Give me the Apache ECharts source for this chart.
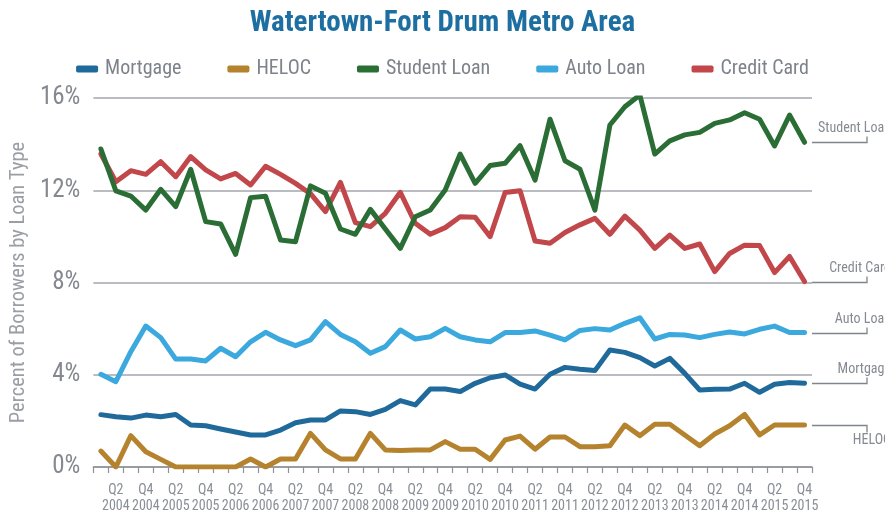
<!DOCTYPE html>
<html>
<head>
<meta charset="utf-8">
<script src="https://cdn.jsdelivr.net/npm/echarts@6/dist/echarts.min.js"></script>
<style>
html,body{margin:0;padding:0;background:#fff;}
#chart{width:885px;height:517px;}
</style>
</head>
<body>
<div id="chart"></div>
<script>
var categories = [
"Q1\n2004","Q2\n2004","Q3\n2004","Q4\n2004",
"Q1\n2005","Q2\n2005","Q3\n2005","Q4\n2005",
"Q1\n2006","Q2\n2006","Q3\n2006","Q4\n2006",
"Q1\n2007","Q2\n2007","Q3\n2007","Q4\n2007",
"Q1\n2008","Q2\n2008","Q3\n2008","Q4\n2008",
"Q1\n2009","Q2\n2009","Q3\n2009","Q4\n2009",
"Q1\n2010","Q2\n2010","Q3\n2010","Q4\n2010",
"Q1\n2011","Q2\n2011","Q3\n2011","Q4\n2011",
"Q1\n2012","Q2\n2012","Q3\n2012","Q4\n2012",
"Q1\n2013","Q2\n2013","Q3\n2013","Q4\n2013",
"Q1\n2014","Q2\n2014","Q3\n2014","Q4\n2014",
"Q1\n2015","Q2\n2015","Q3\n2015","Q4\n2015"
];
var seriesNames = ["Mortgage","HELOC","Student Loan","Auto Loan","Credit Card"];
var mortgage = [2.27,2.18,2.12,2.25,2.18,2.28,1.82,1.79,1.65,1.52,1.39,1.39,1.60,1.92,2.04,2.04,2.43,2.40,2.28,2.50,2.88,2.69,3.38,3.38,3.27,3.63,3.87,3.99,3.59,3.38,4.02,4.32,4.24,4.18,5.07,4.97,4.74,4.38,4.71,4.06,3.34,3.37,3.38,3.63,3.24,3.59,3.66,3.63];
var heloc = [0.69,0,1.36,0.66,0.33,0,0,0,0,0,0.35,0,0.35,0.35,1.46,0.74,0.35,0.35,1.46,0.74,0.72,0.74,0.74,1.10,0.77,0.77,0.33,1.17,1.34,0.77,1.30,1.30,0.88,0.88,0.92,1.82,1.36,1.85,1.85,1.39,0.92,1.43,1.79,2.28,1.39,1.82,1.82,1.82];
var studentLoan = [13.79,11.97,11.75,11.14,12.04,11.29,12.91,10.64,10.54,9.22,11.68,11.74,9.84,9.77,12.19,11.87,10.32,10.09,11.17,10.32,9.48,10.85,11.14,12.01,13.57,12.30,13.07,13.17,13.93,12.44,15.08,13.28,12.91,11.14,14.83,15.62,16.13,13.57,14.14,14.40,14.51,14.90,15.05,15.36,15.08,13.92,15.26,14.08];
var autoLoan = [4.02,3.70,5.00,6.11,5.61,4.68,4.68,4.60,5.15,4.78,5.43,5.84,5.51,5.26,5.51,6.30,5.75,5.43,4.93,5.22,5.94,5.55,5.65,6.01,5.65,5.51,5.43,5.83,5.83,5.90,5.72,5.51,5.92,6.00,5.94,6.23,6.47,5.55,5.75,5.72,5.61,5.75,5.85,5.77,5.97,6.11,5.83,5.83];
var creditCard = [13.57,12.37,12.85,12.69,13.24,12.59,13.46,12.88,12.49,12.73,12.23,13.04,12.69,12.30,11.85,11.07,12.34,10.60,10.42,11.00,11.91,10.57,10.09,10.38,10.85,10.83,9.99,11.90,11.98,9.80,9.70,10.17,10.50,10.78,10.09,10.88,10.27,9.48,10.06,9.48,9.67,8.47,9.26,9.62,9.60,8.43,9.13,8.04];
var yTicks = [0,4,8,12,16];
var endLabelNames = ["Student Loan","Credit Card","Auto Loan","Mortgage","HELOC"];
var endLabelBelow = [false,false,false,false,true];

var colors = ["#1f6a9b","#b5832d","#2a6e36","#3ba8de","#c1474b"];
var seriesData = [mortgage, heloc, studentLoan, autoLoan, creditCard];
var zOrder = [3,3,5,3,4];
var condensed = '"Roboto Condensed","Liberation Sans Narrow","DejaVu Sans Condensed",Roboto,sans-serif';

var chart = echarts.init(document.getElementById('chart'), null, {renderer:'canvas'});
var GRID = {left:81, right:73, top:98, bottom:50};

var series = seriesNames.map(function(n,i){
  return {
    name:n, type:'line', data:seriesData[i], symbol:'none', smooth:false,
    z: zOrder[i],
    lineStyle:{width:5, color:colors[i], cap:'round', join:'round'},
    itemStyle:{color:colors[i]},
    emphasis:{disabled:true}
  };
});

chart.setOption({
  animation:false,
  backgroundColor:'#fff',
  title:{
    text:'Watertown-Fort Drum Metro Area', left:'center', top:4,
    textStyle:{fontFamily:condensed, fontWeight:'bold', fontSize:29, color:'#1d6ea1'}
  },
  legend:{
    data:seriesNames, top:54, left:'center', icon:'roundRect',
    itemWidth:22, itemHeight:7, itemGap:46,
    textStyle:{fontFamily:condensed, fontSize:20, color:'#7d828b', padding:[0,0,0,2]}
  },
  grid:GRID,
  xAxis:{
    type:'category', data:categories, boundaryGap:true,
    axisLine:{lineStyle:{color:'#8e9198', width:1.5}},
    axisTick:{show:true, interval:0, length:6, lineStyle:{color:'#8e9198', width:1.2}},
    axisLabel:{
      interval:function(idx){return idx % 2 === 1;},
      fontFamily:condensed, fontSize:14, color:'#8a8e96', lineHeight:16, margin:15
    },
    splitLine:{show:false}
  },
  yAxis:{
    type:'value', min:0, max:16, interval:4,
    name:'Percent of Borrowers by Loan Type', nameLocation:'middle', nameGap:57,
    nameTextStyle:{fontFamily:condensed, fontSize:20.5, color:'#9a9ea5'},
    axisLine:{show:false}, axisTick:{show:false},
    axisLabel:{formatter:function(v){return v+'%';}, fontFamily:condensed, fontSize:25, color:'#84888f', margin:13},
    splitLine:{lineStyle:{color:'#a3a6ac', width:1.5}}
  },
  series:series
});

// end annotations placed through the chart's own scale
var lastIdx = categories.length - 1;
var lastVals = {"Student Loan":studentLoan[lastIdx],"Credit Card":creditCard[lastIdx],"Auto Loan":autoLoan[lastIdx],"Mortgage":mortgage[lastIdx],"HELOC":heloc[lastIdx]};
var xStart = chart.getWidth() - GRID.right;
var xEnd = xStart + 55;
var graphics = [];
endLabelNames.forEach(function(n,k){
  var y = Math.round(chart.convertToPixel({yAxisIndex:0}, lastVals[n])) + 0.5;
  var below = endLabelBelow[k];
  graphics.push({
    type:'polyline', silent:true, z:10,
    shape:{points:[[xStart,y],[xEnd,y],[xEnd, below ? y+7 : y-6]]},
    style:{stroke:'#80848b', lineWidth:1.3, fill:null}
  });
  graphics.push({
    type:'text', silent:true, z:10,
    style:{
      x:891, y: below ? y+8 : y-7, text:n, align:'right',
      verticalAlign: below ? 'top' : 'bottom',
      font:'14px ' + condensed, fill:'#868a92'
    }
  });
});
chart.setOption({graphic:graphics});
</script>
</body>
</html>
